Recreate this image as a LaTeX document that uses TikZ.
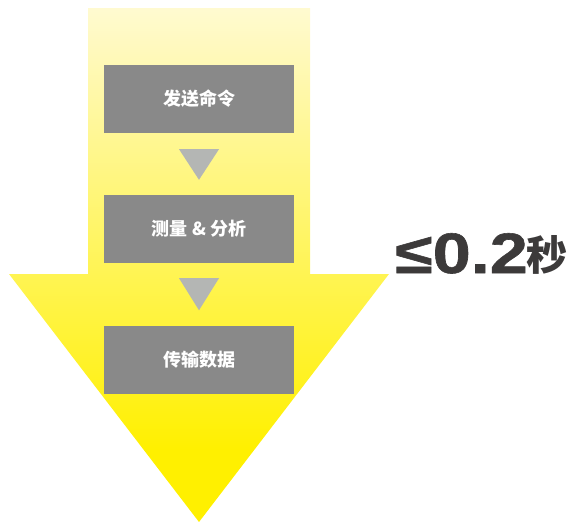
\documentclass[tikz,border=0pt]{standalone}
\usepackage{fontspec}
\setmainfont{Liberation Sans}
\newfontfamily\cjk{Noto Sans CJK SC}
\newfontfamily\heavy{Liberation Sans Bold}[FakeBold=1]
\usetikzlibrary{calc}
\definecolor{ylw}{HTML}{FFF000}
\definecolor{pale}{HTML}{FFFAD0}
\definecolor{boxgray}{HTML}{898989}
\definecolor{trigray}{HTML}{B4B6B4}
\definecolor{txtdark}{HTML}{3C3A3A}
\pgfdeclareverticalshading{arrowshade}{100bp}{color(0bp)=(ylw); color(32bp)=(ylw); color(75bp)=(pale); color(100bp)=(pale)}
\tikzset{
  stepbox/.style={draw=none, fill=boxgray, minimum width=190pt, minimum height=68pt, inner sep=0pt,
    text=white, font=\cjk\bfseries\fontsize{18}{20}\selectfont},
  tri/.style={fill=trigray, draw=none},
}
\begin{document}
\begin{tikzpicture}[x=1pt, y=-1pt]
\useasboundingbox (0,0) rectangle (571,522);
% big arrow
\shade[shading=arrowshade] (88,8) -- (310,8) -- (310,274) -- (389,274) -- (199,522) -- (9,274) -- (88,274) -- cycle;
% boxes
\node[stepbox] (b1) at (199,99) {发送命令};
\node[stepbox] (b2) at (199,229) {测量 \& 分析};
\node[stepbox] (b3) at (199,359.5) {传输数据};
% triangles between boxes
\fill[tri] ($(b1.south)+(-20,16)$) -- ($(b1.south)+(20,16)$) -- ($(b2.north)+(0,-15)$) -- cycle;
\fill[tri] ($(b2.south)+(-20,15)$) -- ($(b2.south)+(20,15)$) -- ($(b3.north)+(0,-15)$) -- cycle;
% time label
\node[anchor=base west, inner sep=0pt, text=txtdark] (t1) at (395,273)
  {\scalebox{1.2}[1]{\heavy\fontsize{57}{60}\selectfont ≤0.2}};
\node[anchor=base west, inner sep=0pt, text=txtdark, font=\cjk\bfseries\fontsize{41}{44}\selectfont] (t2) at ($(t1.base east)+(-2,-3)$) {秒};
\end{tikzpicture}
\end{document}
